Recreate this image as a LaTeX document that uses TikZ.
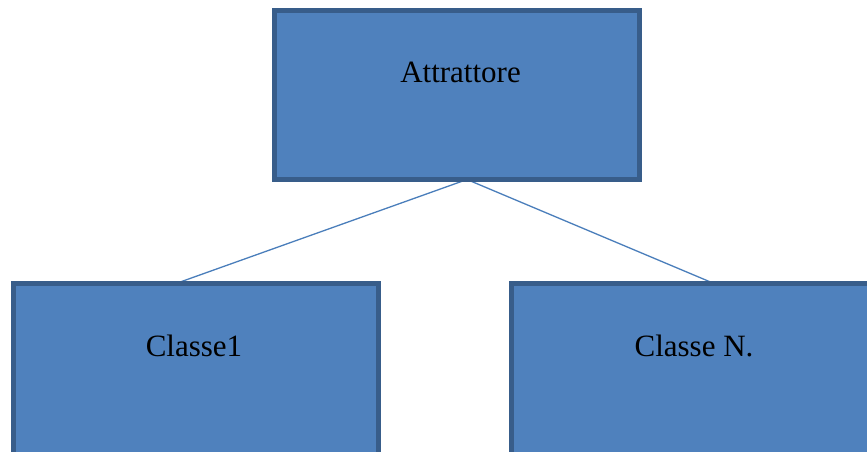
\documentclass[tikz,border=0pt]{standalone}
\usepackage{fontspec}
\setmainfont{Liberation Serif}
\usetikzlibrary{backgrounds}
\definecolor{boxfill}{HTML}{4F81BD}
\definecolor{boxline}{HTML}{385D8A}
\definecolor{connline}{HTML}{4A7EBB}
\tikzset{
  classbox/.style={rectangle, draw=boxline, fill=boxfill, line width=5pt,
    minimum width=365pt, minimum height=169pt, inner sep=0pt, outer sep=0pt,
    font=\fontsize{31}{37}\selectfont, text=black},
  conn/.style={draw=connline, line width=1.3pt}
}
\begin{document}
\begin{tikzpicture}[x=1pt,y=1pt]
\useasboundingbox (0,0) rectangle (867,452);
\clip (0,0) rectangle (867,452);
\node[classbox, text height=22pt, text depth=46pt] (top) at (457,357) {\hspace*{7pt}Attrattore};
\node[classbox, minimum height=185pt, text height=22pt, text depth=60pt] (c1) at (196,76) {Classe1\hspace*{4pt}};
\node[classbox, minimum height=185pt, text height=22pt, text depth=60pt] (cn) at (694,76) {Classe N.};
\begin{scope}[on background layer]
\draw[conn] ([xshift=10pt]top.south) -- ([xshift=-20pt]c1.north);
\draw[conn] ([xshift=10pt]top.south) -- ([xshift=20pt]cn.north);
\end{scope}
\end{tikzpicture}
\end{document}
